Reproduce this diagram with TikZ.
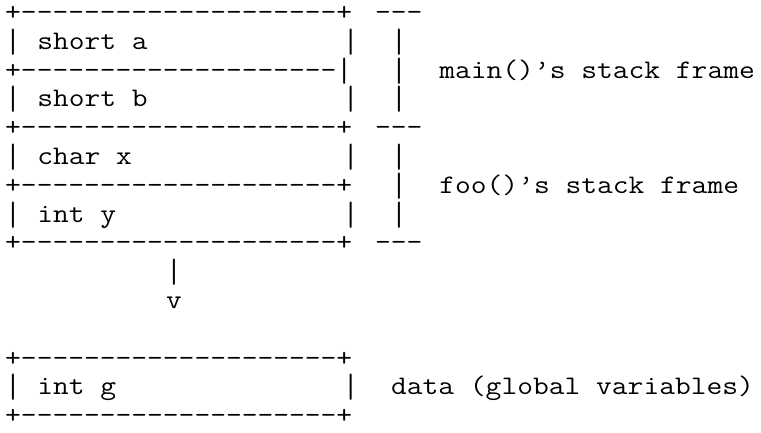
\documentclass[tikz,border=0pt]{standalone}
\usepackage{graphicx}
\usepackage{fontspec}
\newfontfamily\ascfont{Latin Modern Mono}[FakeStretch=1.143]
\newcommand\rep[2]{\foreach\ii in {1,...,#1}{#2\kern0pt}}
\newcommand\vb{\raisebox{-0.22em}{\resizebox{\width}{0.98em}{\raisebox{\depth}{|}}}}
\newcommand\seg[3]{\node[asc] (r#1c#2) at ({5.2+16.08*#2},{432-20.5-28.8*#1}) {#3};}
\begin{document}
\begin{tikzpicture}[x=1pt,y=1pt,
  asc/.style={anchor=base west,inner sep=0pt,outer sep=0pt,text=black,
              font=\ascfont\fontsize{26.8}{28.8}\selectfont}]
\fill[white] (0,0) rectangle (761,432);
\useasboundingbox (0,0) rectangle (761,432);
% row 0
\seg{0}{0}{+\rep{20}{-}+}
\seg{0}{23}{\rep{3}{-}}
% row 1
\seg{1}{0}{\vb}
\seg{1}{2}{short a}
\seg{1}{21}{\vb}
\seg{1}{24}{\vb}
% row 2
\seg{2}{0}{+\rep{20}{-}\vb}
\seg{2}{24}{\vb}
\seg{2}{27}{main()’s stack frame}
% row 3
\seg{3}{0}{\vb}
\seg{3}{2}{short b}
\seg{3}{21}{\vb}
\seg{3}{24}{\vb}
% row 4
\seg{4}{0}{+\rep{20}{-}+}
\seg{4}{23}{\rep{3}{-}}
% row 5
\seg{5}{0}{\vb}
\seg{5}{2}{char x}
\seg{5}{21}{\vb}
\seg{5}{24}{\vb}
% row 6
\seg{6}{0}{+\rep{20}{-}+}
\seg{6}{24}{\vb}
\seg{6}{27}{foo()’s stack frame}
% row 7
\seg{7}{0}{\vb}
\seg{7}{2}{int y}
\seg{7}{21}{\vb}
\seg{7}{24}{\vb}
% row 8
\seg{8}{0}{+\rep{20}{-}+}
\seg{8}{23}{\rep{3}{-}}
% rows 9-10: arrow
\seg{9}{10}{\vb}
\seg{10}{10}{v}
% row 12
\seg{12}{0}{+\rep{20}{-}+}
% row 13
\seg{13}{0}{\vb}
\seg{13}{2}{int g}
\seg{13}{21}{\vb}
\seg{13}{24}{data (global variables)}
% row 14
\seg{14}{0}{+\rep{20}{-}+}
\end{tikzpicture}
\end{document}
